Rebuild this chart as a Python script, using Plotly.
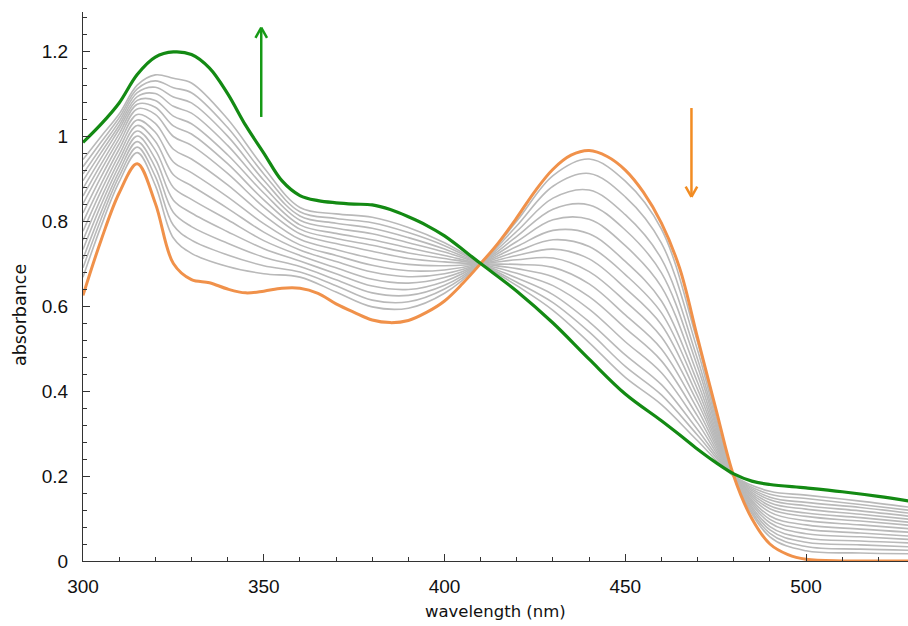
import plotly.graph_objects as go

# ---------------- data ----------------
green_wavelength = [300, 305, 310, 315, 320, 325, 330, 335, 340, 345, 350, 355, 360, 365, 370, 375,
                    380, 385, 390, 395, 400, 410, 420, 430, 440, 450, 460, 465, 470, 475, 480, 485,
                    490, 500, 510, 520, 530]
green_absorbance = [0.985, 1.028, 1.078, 1.145, 1.186, 1.198, 1.192, 1.160, 1.100, 1.025, 0.960, 0.895,
                    0.860, 0.848, 0.843, 0.840, 0.838, 0.827, 0.810, 0.790, 0.765, 0.700, 0.635, 0.560,
                    0.475, 0.393, 0.330, 0.297, 0.263, 0.232, 0.205, 0.188, 0.180, 0.172, 0.163, 0.152,
                    0.139]

orange_wavelength = [300, 305, 310, 315, 320, 325, 330, 335, 340, 345, 350, 355, 360, 365, 370, 375,
                     380, 385, 390, 395, 400, 405, 410, 415, 420, 425, 430, 435, 440, 445, 450, 455,
                     460, 465, 470, 475, 480, 485, 490, 495, 500, 510, 520, 530]
orange_absorbance = [0.625, 0.755, 0.866, 0.935, 0.842, 0.700, 0.662, 0.655, 0.640, 0.631, 0.635, 0.642,
                     0.642, 0.630, 0.605, 0.585, 0.567, 0.561, 0.566, 0.585, 0.612, 0.653, 0.700, 0.750,
                     0.808, 0.870, 0.922, 0.955, 0.966, 0.952, 0.920, 0.868, 0.795, 0.690, 0.525, 0.360,
                     0.200, 0.100, 0.040, 0.015, 0.004, 0.000, 0.000, 0.000]

gray_wavelength = [300, 305, 310, 315, 320, 325, 330, 340, 350, 360, 370, 380, 390, 400, 410,
                   420, 430, 440, 450, 460, 470, 480, 490, 500, 515, 530]
gray_absorbance = [
    [.668, .788, .892, .961, .884, .760, .724, .693, .676, .668, .633, .598, .595, .630, .700, .800, .907, .946, .894, .781, .515, .200, .057, .024, .019, .017],
    [.690, .805, .905, .974, .905, .790, .755, .720, .695, .680, .648, .614, .610, .640, .700, .789, .882, .912, .857, .748, .496, .200, .065, .034, .028, .025],
    [.711, .821, .917, .987, .926, .820, .787, .748, .715, .693, .662, .631, .625, .649, .700, .776, .854, .873, .815, .711, .475, .200, .073, .044, .038, .033],
    [.733, .838, .930, 1.000, .946, .849, .819, .775, .735, .706, .676, .647, .639, .658, .700, .764, .828, .838, .779, .678, .457, .200, .081, .054, .047, .042],
    [.755, .854, .943, 1.012, .967, .879, .851, .803, .754, .719, .690, .663, .654, .667, .700, .752, .803, .804, .742, .645, .438, .200, .090, .064, .057, .050],
    [.776, .871, .956, 1.025, .988, .909, .883, .830, .774, .732, .705, .680, .669, .676, .700, .740, .778, .770, .705, .612, .420, .200, .098, .075, .066, .058],
    [.798, .887, .969, 1.038, 1.009, .939, .914, .857, .794, .744, .719, .696, .683, .685, .700, .729, .756, .740, .674, .584, .404, .200, .106, .085, .075, .067],
    [.819, .904, .982, 1.051, 1.030, .969, .946, .885, .814, .757, .733, .712, .698, .695, .700, .719, .734, .711, .642, .556, .388, .200, .115, .095, .085, .075],
    [.841, .920, .994, 1.064, 1.051, .999, .978, .912, .833, .770, .747, .729, .712, .704, .700, .709, .713, .681, .611, .527, .373, .200, .123, .105, .094, .083],
    [.859, .934, 1.005, 1.075, 1.068, 1.024, 1.005, .935, .850, .781, .759, .743, .725, .712, .700, .698, .691, .652, .579, .499, .357, .200, .130, .113, .102, .090],
    [.877, .948, 1.016, 1.084, 1.084, 1.047, 1.029, .956, .866, .791, .771, .756, .737, .719, .700, .688, .669, .622, .548, .471, .341, .200, .137, .122, .110, .097],
    [.895, .961, 1.025, 1.093, 1.100, 1.070, 1.054, .978, .881, .802, .783, .770, .749, .727, .700, .677, .648, .593, .516, .443, .325, .200, .144, .130, .118, .104],
    [.911, .973, 1.034, 1.102, 1.115, 1.092, 1.078, 1.000, .896, .812, .795, .783, .761, .734, .700, .666, .627, .563, .485, .415, .309, .200, .150, .138, .126, .111],
    [.928, .986, 1.043, 1.111, 1.130, 1.114, 1.102, 1.020, .911, .822, .806, .796, .773, .742, .700, .656, .608, .539, .458, .391, .296, .200, .157, .147, .133, .118],
    [.945, .999, 1.052, 1.120, 1.144, 1.136, 1.125, 1.040, .926, .832, .817, .809, .785, .749, .700, .648, .590, .514, .432, .368, .283, .200, .164, .155, .141, .125],
]

x_tick_values = [300, 350, 400, 450, 500]
y_tick_values = [0, 0.2, 0.4, 0.6, 0.8, 1, 1.2]
y_tick_labels = ["0", "0.2", "0.4", "0.6", "0.8", "1", "1.2"]
x_title = "wavelength (nm)"
y_title = "absorbance"

# ---------------- figure ----------------
GREEN = "#138a13"
ORANGE = "#f0914a"
ARROW_ORANGE = "#f28c22"
GRAY = "#b9b9b9"

fig = go.Figure()
for row in gray_absorbance:
    fig.add_trace(go.Scatter(x=gray_wavelength, y=row, mode="lines",
                             line=dict(color=GRAY, width=1.6, shape="spline", smoothing=1.0),
                             hoverinfo="skip", showlegend=False))
fig.add_trace(go.Scatter(x=orange_wavelength, y=orange_absorbance, mode="lines",
                         line=dict(color=ORANGE, width=3, shape="spline", smoothing=1.0),
                         showlegend=False))
fig.add_trace(go.Scatter(x=green_wavelength, y=green_absorbance, mode="lines",
                         line=dict(color=GREEN, width=3.2, shape="spline", smoothing=1.0),
                         showlegend=False))

# arrows (shaft + open chevron head)
def arrow(x, y0, y1, color, up):
    shapes = [dict(type="line", xref="x", yref="y", x0=x, x1=x, y0=y0, y1=y1,
                   line=dict(color=color, width=2.5))]
    tip = y1
    back = tip - 0.024 if up else tip + 0.024
    for dx in (-1.6, 1.6):
        shapes.append(dict(type="line", xref="x", yref="y", x0=x, x1=x + dx, y0=tip, y1=back,
                           line=dict(color=color, width=2.5)))
    return shapes

shapes = arrow(349.3, 1.045, 1.255, "#169a16", True) + arrow(468.3, 1.066, 0.857, ARROW_ORANGE, False)

title_font = dict(family="DejaVu Sans, sans-serif", size=16.5, color="#111")
annotations = [
    dict(text=x_title, xref="paper", yref="paper", x=0.4995, y=-0.0925, xanchor="center",
         yanchor="middle", showarrow=False, font=title_font),
    dict(text=y_title, xref="paper", yref="paper", x=-0.0764, y=0.448, xanchor="center",
         yanchor="middle", textangle=-90, showarrow=False,
         font=dict(family="DejaVu Sans, sans-serif", size=17.5, color="#111")),
]

axis_font = dict(family="Liberation Sans, Arial, sans-serif", size=19, color="#111")
fig.update_layout(
    width=908, height=626,
    margin=dict(l=83, r=0, t=12, b=65),
    paper_bgcolor="white", plot_bgcolor="white",
    shapes=shapes, annotations=annotations,
    xaxis=dict(range=[300, 528.2], tickvals=x_tick_values, ticks="inside", ticklen=7, tickwidth=1,
               tickcolor="#333", showline=True, linecolor="#333", linewidth=1.2, showgrid=False,
               zeroline=False, tickfont=axis_font, ticklabelstandoff=8,
               minor=dict(dtick=10, ticks="inside", ticklen=4, tickcolor="#333", showgrid=False)),
    yaxis=dict(range=[0, 1.292], tickvals=y_tick_values, ticktext=y_tick_labels, ticks="inside",
               ticklen=7, tickwidth=1, tickcolor="#333", showline=True, linecolor="#333",
               linewidth=1.2, showgrid=False, zeroline=False, tickfont=axis_font,
               ticklabelstandoff=10,
               minor=dict(dtick=0.04, ticks="inside", ticklen=4, tickcolor="#333", showgrid=False)),
)

fig.write_html("out.html")
